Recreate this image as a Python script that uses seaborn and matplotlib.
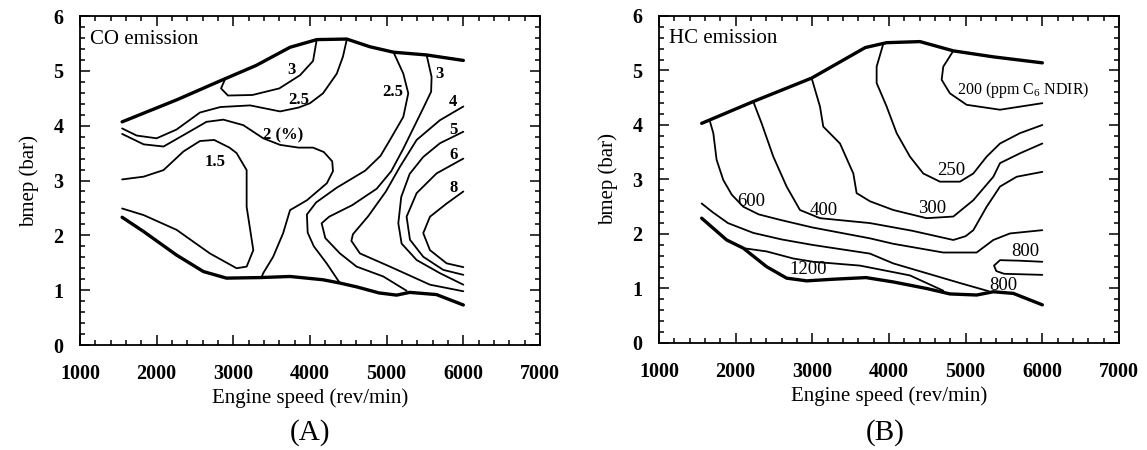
import numpy as np
import pandas as pd
import matplotlib
matplotlib.use("Agg")
import matplotlib.pyplot as plt
import seaborn as sns
from matplotlib.ticker import MultipleLocator

# ---------------- Panel A : CO emission (%) ----------------
co_top_x = [1550, 2260, 2800, 3300, 3740, 4090, 4480, 4780, 5090, 5520, 6000]
co_top_y = [4.07, 4.47, 4.80, 5.10, 5.43, 5.57, 5.58, 5.44, 5.34, 5.29, 5.19]
co_bot_x = [1550, 1830, 2260, 2610, 2910, 3350, 3740, 4170, 4390, 4610, 4900, 5130, 5300, 5650, 6000]
co_bot_y = [2.33, 2.07, 1.64, 1.34, 1.22, 1.23, 1.25, 1.19, 1.13, 1.06, 0.95, 0.91, 0.96, 0.92, 0.73]

co_3a_x = [2890, 2840, 2930, 3250, 3600, 3870, 4040, 4087]
co_3a_y = [4.84, 4.68, 4.55, 4.56, 4.68, 4.92, 5.18, 5.56]
co_25a_x = [1550, 1740, 2000, 2260, 2565, 2830, 3220, 3610, 3850, 4000, 4170, 4350, 4430, 4480]
co_25a_y = [3.95, 3.82, 3.77, 3.93, 4.24, 4.34, 4.37, 4.26, 4.33, 4.41, 4.59, 4.95, 5.26, 5.57]
co_2_x = [1550, 1830, 2090, 2390, 2650, 2870, 3130, 3390, 3610, 3850, 4040, 4180, 4290, 4300,
          4220, 3960, 3740, 3650, 3520, 3390, 3370]
co_2_y = [3.85, 3.66, 3.62, 3.86, 4.07, 4.11, 4.01, 3.77, 3.65, 3.60, 3.60, 3.52, 3.35, 3.17,
          2.95, 2.64, 2.46, 2.04, 1.61, 1.31, 1.24]
co_15_x = [1550, 1830, 2090, 2350, 2565, 2750, 2950, 3043, 3174, 3174, 3261, 3174, 3043, 2695, 2261, 1830, 1550]
co_15_y = [3.02, 3.07, 3.19, 3.53, 3.72, 3.74, 3.60, 3.50, 3.19, 2.52, 1.73, 1.43, 1.40, 1.67, 2.10, 2.37, 2.49]
co_25b_x = [5086, 5217, 5282, 5217, 5043, 4920, 4720, 4350, 4080, 3960, 3970, 4050, 4217, 4390]
co_25b_y = [5.35, 4.95, 4.59, 4.16, 3.74, 3.45, 3.18, 2.87, 2.60, 2.38, 2.05, 1.80, 1.49, 1.13]
co_3b_x = [5521, 5586, 5580, 5477, 5347, 5217, 5060, 4870, 4550, 4250, 4152, 4200, 4391, 4608, 4956, 5260]
co_3b_y = [5.29, 4.89, 4.62, 4.32, 3.95, 3.58, 3.17, 2.85, 2.55, 2.34, 2.22, 1.95, 1.67, 1.43, 1.25, 0.99]
co_4_x = [6000, 5695, 5391, 5173, 4990, 4760, 4560, 4540, 4652, 5043, 5565, 6000]
co_4_y = [4.35, 4.10, 3.74, 3.25, 2.80, 2.35, 2.02, 1.90, 1.67, 1.43, 1.10, 0.98]
co_5_x = [6000, 5695, 5477, 5300, 5190, 5152, 5195, 5391, 5695, 6000]
co_5_y = [3.89, 3.68, 3.43, 3.12, 2.70, 2.22, 1.85, 1.55, 1.31, 1.10]
co_6_x = [6000, 5651, 5391, 5260, 5304, 5477, 5738, 6000]
co_6_y = [3.40, 3.13, 2.77, 2.34, 1.92, 1.61, 1.37, 1.28]
co_8_x = [6000, 5782, 5565, 5477, 5565, 5782, 6000]
co_8_y = [2.80, 2.58, 2.34, 2.04, 1.73, 1.49, 1.42]

co_labels = ["3", "2.5", "2 (%)", "1.5", "2.5", "3", "4", "5", "6", "8"]
co_label_x = [3760, 3850, 3650, 2760, 5086, 5695, 5860, 5869, 5869, 5869]
co_label_y = [5.02, 4.47, 3.83, 3.34, 4.62, 4.95, 4.44, 3.92, 3.47, 2.86]

# ---------------- Panel B : HC emission (ppm) ----------------
hc_top_x = [1557, 2230, 2991, 3690, 3969, 4404, 4839, 5361, 6000]
hc_top_y = [4.03, 4.43, 4.86, 5.42, 5.51, 5.53, 5.36, 5.25, 5.14]
hc_bot_x = [1557, 1883, 2100, 2404, 2665, 2926, 3274, 3700, 4056, 4491, 4795, 5143, 5361, 5622, 6000]
hc_bot_y = [2.29, 1.89, 1.74, 1.40, 1.19, 1.14, 1.17, 1.20, 1.12, 1.00, 0.90, 0.88, 0.94, 0.91, 0.70]

hc_600_x = [1660, 1709, 1752, 1839, 1950, 2100, 2300, 2578, 3000, 3752, 4056, 4708, 5143, 5361, 5578, 6000]
hc_600_y = [4.09, 3.85, 3.36, 2.99, 2.72, 2.50, 2.36, 2.26, 2.12, 1.92, 1.82, 1.66, 1.66, 1.89, 2.01, 2.07]
hc_400_x = [2230, 2339, 2491, 2665, 2839, 3100, 3752, 4300, 4839, 5000, 5100, 5274, 5448, 5665, 6000]
hc_400_y = [4.43, 4.03, 3.42, 2.87, 2.44, 2.29, 2.20, 2.06, 1.89, 1.96, 2.07, 2.50, 2.87, 3.05, 3.14]
hc_300_x = [2991, 3100, 3143, 3361, 3535, 3578, 3752, 4056, 4491, 4839, 5100, 5361, 5448, 5708, 6000]
hc_300_y = [4.86, 4.34, 3.97, 3.66, 3.11, 2.75, 2.60, 2.44, 2.29, 2.32, 2.62, 3.05, 3.30, 3.48, 3.66]
hc_250_x = [3926, 3839, 3839, 3969, 4100, 4273, 4447, 4665, 4926, 5100, 5274, 5448, 5708, 6000]
hc_250_y = [5.49, 5.07, 4.77, 4.34, 3.85, 3.42, 3.11, 2.96, 2.96, 3.11, 3.42, 3.66, 3.85, 4.00]
hc_200_x = [4839, 4708, 4687, 4795, 5013, 5448, 6000]
hc_200_y = [5.36, 5.07, 4.83, 4.58, 4.37, 4.28, 4.40]
hc_800a_x = [1557, 1700, 1900, 2230, 2600, 3000, 3752, 4056, 4491, 4926, 5300]
hc_800a_y = [2.56, 2.40, 2.20, 2.02, 1.90, 1.80, 1.64, 1.46, 1.28, 1.10, 0.95]
hc_1200_x = [2100, 2404, 2752, 3013, 3621, 4273, 4708]
hc_1200_y = [1.74, 1.68, 1.55, 1.49, 1.42, 1.24, 0.96]
hc_800b_x = [6000, 5700, 5448, 5370, 5400, 5500, 6000]
hc_800b_y = [1.49, 1.51, 1.52, 1.42, 1.32, 1.27, 1.25]

hc_labels = ["200 (ppm C$_6$ NDIR)", "250", "300", "400", "600", "1200", "800", "800"]
hc_label_x = [4883, 4817, 4569, 3143, 2209, 2948, 5782, 5491]
hc_label_y = [4.65, 3.17, 2.47, 2.44, 2.59, 1.34, 1.68, 1.06]

# ---------------- styling ----------------
sns.set_theme(style="ticks")
plt.rcParams.update({
    "font.family": ["Liberation Serif", "DejaVu Serif"],
    "mathtext.fontset": "custom",
    "mathtext.rm": "Liberation Serif",
    "mathtext.it": "Liberation Serif:italic",
    "mathtext.bf": "Liberation Serif:bold",
    "axes.edgecolor": "black",
    "axes.labelcolor": "black",
    "text.color": "black",
    "xtick.color": "black",
    "ytick.color": "black",
})


def to_frame(curves):
    rows = []
    for name, xs, ys in curves:
        for i, (x, y) in enumerate(zip(xs, ys)):
            rows.append((name, i, x, y))
    return pd.DataFrame(rows, columns=["curve", "order", "x", "y"])


def draw_panel(ax, bounds, contours, labels, lx, ly, title, label_weight, label_size):
    dfb = to_frame(bounds)
    dfc = to_frame(contours)
    sns.lineplot(data=dfc, x="x", y="y", units="curve", estimator=None, sort=False,
                 color="black", lw=1.3, legend=False, ax=ax,
                 solid_joinstyle="round", solid_capstyle="round")
    sns.lineplot(data=dfb, x="x", y="y", units="curve", estimator=None, sort=False,
                 color="black", lw=2.4, legend=False, ax=ax,
                 solid_joinstyle="round", solid_capstyle="round")
    for t, x, y in zip(labels, lx, ly):
        if t.startswith("200"):
            ax.text(x, y, t, ha="left", va="center", fontsize=11.5, fontweight="normal")
        else:
            ax.text(x, y, t, ha="center", va="center", fontsize=label_size,
                    fontweight=label_weight)
    ax.text(1130, 5.58, title, ha="left", va="center", fontsize=15)
    ax.set_xlim(1000, 7000)
    ax.set_ylim(0, 6)
    ax.xaxis.set_major_locator(MultipleLocator(1000))
    ax.xaxis.set_minor_locator(MultipleLocator(200))
    ax.yaxis.set_major_locator(MultipleLocator(1))
    ax.yaxis.set_minor_locator(MultipleLocator(0.2))
    ax.tick_params(which="both", direction="in", top=True, right=True, width=1.1, colors="black")
    ax.tick_params(which="major", length=7, labelsize=14.5)
    ax.tick_params(axis="x", which="major", pad=14)
    ax.tick_params(axis="y", which="major", pad=12)
    ax.tick_params(which="minor", length=3.5)
    for lab in ax.get_xticklabels() + ax.get_yticklabels():
        lab.set_fontweight("bold")
    for s in ax.spines.values():
        s.set_linewidth(1.3)
        s.set_color("black")
    ax.set_xlabel("Engine speed (rev/min)", fontsize=15, labelpad=3)
    ax.set_ylabel("bmep (bar)", fontsize=15, labelpad=10)


fig = plt.figure(figsize=(11.47, 4.5), dpi=100)
axA = fig.add_axes([0.0697, 0.2333, 0.4011, 0.7311])
axB = fig.add_axes([0.5745, 0.2378, 0.4011, 0.7267])

draw_panel(axA,
           [("top", co_top_x, co_top_y), ("bot", co_bot_x, co_bot_y)],
           [("c3a", co_3a_x, co_3a_y), ("c25a", co_25a_x, co_25a_y), ("c2", co_2_x, co_2_y),
            ("c15", co_15_x, co_15_y), ("c25b", co_25b_x, co_25b_y), ("c3b", co_3b_x, co_3b_y),
            ("c4", co_4_x, co_4_y), ("c5", co_5_x, co_5_y), ("c6", co_6_x, co_6_y),
            ("c8", co_8_x, co_8_y)],
           co_labels, co_label_x, co_label_y, "CO emission", "bold", 12)

draw_panel(axB,
           [("top", hc_top_x, hc_top_y), ("bot", hc_bot_x, hc_bot_y)],
           [("h600", hc_600_x, hc_600_y), ("h400", hc_400_x, hc_400_y), ("h300", hc_300_x, hc_300_y),
            ("h250", hc_250_x, hc_250_y), ("h200", hc_200_x, hc_200_y), ("h800a", hc_800a_x, hc_800a_y),
            ("h1200", hc_1200_x, hc_1200_y), ("h800b", hc_800b_x, hc_800b_y)],
           hc_labels, hc_label_x, hc_label_y, "HC emission", "normal", 13.5)

fig.text(310 / 1147, 1 - 433 / 450, "(A)", ha="center", va="center", fontsize=21)
fig.text(885 / 1147, 1 - 433 / 450, "(B)", ha="center", va="center", fontsize=21)

fig.savefig("out.png", dpi=100, facecolor="white")
